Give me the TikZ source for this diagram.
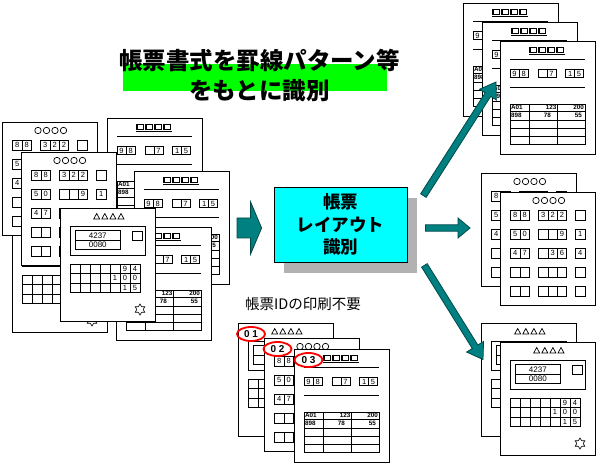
\documentclass[tikz,border=0pt]{standalone}
\usepackage{fontspec}
\usepackage{tikz}
\usetikzlibrary{positioning,calc,shapes.geometric,shadows}
\newfontfamily\jpfont{Noto Sans CJK JP}
\newfontfamily\digitfont{Liberation Sans}
\definecolor{formteal}{RGB}{0,128,128}
\definecolor{formtealdark}{RGB}{0,72,72}
\definecolor{markgreen}{RGB}{0,255,0}
\definecolor{boxcyan}{RGB}{0,255,255}
\definecolor{shadowgray}{RGB}{178,178,178}

% row of numbered cells: x, y, cell width, cell height, digits
\newcommand\cells[5]{%
  \foreach \d [count=\i from 0] in {#5} {
    \draw[cell] ({#1+#3*\i},#2) rectangle +(#3,#4);
    \node[digit] at ({#1+#3*\i+#3/2},{#2+#4/2}) {\d};
  }}

% block arrow: tail, tip, half shaft, half head, head length
\newcommand\blockarrow[5]{%
  \coordinate (hb) at ($(#2)!#5!(#1)$);
  \filldraw[flowarrow] ($(#1)!#3!90:(#2)$) -- ($(hb)!#3!90:(#2)$) -- ($(hb)!#4!90:(#2)$) -- (#2)
    -- ($(hb)!#4!-90:(#2)$) -- ($(hb)!#3!-90:(#2)$) -- ($(#1)!#3!-90:(#2)$) -- cycle;}

\tikzset{
  pics/circleform/.style={code={
    \node[sheet] (-sheet) at (47.5,56.5) {};
    \foreach \cx in {36,44.5,53,61.5} \draw[glyph] (\cx,8.5) circle (3.2);
    \cells{10.5}{18}{9.4}{10}{8,8} \cells{38.5}{18}{9.4}{10}{3,2,2} \cells{75.5}{18}{9.4}{10}{{}}
    \cells{10.5}{37}{9.4}{10}{5,0} \cells{38.5}{37}{9.4}{10}{{},{},9} \cells{75.5}{37}{9.4}{10}{1}
    \cells{10.5}{56}{9.4}{10}{4,7} \cells{38.5}{56}{9.4}{10}{{},3,6} \cells{75.5}{56}{9.4}{10}{4}
    \cells{10.5}{75}{9.4}{10}{{},{}} \cells{38.5}{75}{9.4}{10}{{},{},{}} \cells{75.5}{75}{9.4}{10}{{}}
    \cells{10.5}{94}{9.4}{10}{{},{}} \cells{38.5}{94}{9.4}{10}{{},{},{}} \cells{75.5}{94}{9.4}{10}{{}}
  }},
  pics/squareform/.style={code={
    \node[sheet] (-sheet) at (47.5,56.5) {};
    \foreach \cx in {30,39,48,57} \draw[glyph, line width=1.1pt] (\cx,6.5) rectangle +(6.5,5);
    \draw[line width=1pt] (29,13.5) -- (65,13.5);
    \draw[cell] (10,18.7) -- (85,18.7) (10,46.7) -- (85,46.7);
    \cells{10}{28.3}{9.15}{8.4}{9,8} \cells{38.3}{28.3}{8.85}{8.4}{{},7} \cells{65.7}{28.3}{8.8}{8.4}{1,5}
    \draw[cell] (10,63) rectangle (85,103) (29.3,63) -- (29.3,103) (57.7,63) -- (57.7,103);
    \foreach \ry in {70,79,87,95} \draw[cell] (10,\ry) -- (85,\ry);
    \node[tabtext, anchor=west] at (10.8,66.6) {A01};
    \node[tabtext, anchor=east] at (56.5,66.6) {123};
    \node[tabtext, anchor=east] at (84,66.6) {200};
    \node[tabtext, anchor=west] at (10.8,74.6) {898};
    \node[tabtext, anchor=east] at (51,74.2) {78};
    \node[tabtext, anchor=east] at (82,74.6) {55};
  }},
  pics/triangleform/.style={code={
    \node[sheet] (-sheet) at (47.5,56.5) {};
    \foreach \cx in {36.7,44.8,52.9,61} \draw[glyph] (\cx-3,11) -- (\cx+3,11) -- (\cx,5.5) -- cycle;
    \draw[cell] (10,18.5) rectangle (85,47);
    \draw[cell] (15,22.5) rectangle (60.5,41.5) (15,32) -- (60.5,32);
    \node[numtext] at (37.8,27.3) {4237};
    \node[numtext] at (37.8,36.9) {0080};
    \draw[cell] (72.7,23.7) rectangle (82.3,32.7);
    \draw[cell] (10,56) rectangle (80,84.5);
    \foreach \gx in {20,30,...,70} \draw[cell] (\gx,56) -- (\gx,84.5);
    \foreach \gy in {65.5,75} \draw[cell] (10,\gy) -- (80,\gy);
    \node[digit] at (65,60.8) {9}; \node[digit] at (75,60.8) {4};
    \node[digit] at (55,70.3) {1}; \node[digit] at (65,70.3) {0}; \node[digit] at (75,70.3) {0};
    \node[digit] at (65,79.8) {1}; \node[digit] at (75,79.8) {5};
    \node[draw, star, star points=6, star point ratio=1.7, minimum size=11pt, inner sep=0pt, line width=0.6pt] at (80,101.5) {};
  }}
}

\begin{document}
\begin{tikzpicture}[x=1pt, y=-1pt]

    \tikzstyle{sheet} = [rectangle, draw, fill=white, line width=0.8pt, minimum width=95pt, minimum height=113pt, inner sep=0pt, outer sep=0pt]
    \tikzstyle{cell} = [line width=0.7pt]
    \tikzstyle{glyph} = [line width=0.7pt]
    \tikzstyle{digit} = [inner sep=0pt, font=\digitfont\fontsize{7.5}{7.5}\selectfont]
    \tikzstyle{numtext} = [inner sep=0pt, font=\digitfont\fontsize{8}{8}\selectfont]
    \tikzstyle{tabtext} = [inner sep=0pt, font=\digitfont\bfseries\fontsize{6.3}{6.3}\selectfont]
    \tikzstyle{idmark} = [ellipse, draw=red, line width=1.8pt, minimum width=28pt, minimum height=14pt, inner sep=0pt, font=\digitfont\bfseries\fontsize{10}{10}\selectfont]
    \tikzstyle{flowarrow} = [fill=formteal, draw=formtealdark, line width=0.8pt]

    \useasboundingbox (0,0) rectangle (597,465);
    \fill[white] (0,0) rectangle (597,465);

    % title
    \node [fill=markgreen, minimum width=264pt, minimum height=27pt, inner sep=0pt] (mark) at (255,77.5) {};
    \node [align=center, inner sep=0pt, font=\jpfont\bfseries\fontsize{23.5}{30}\selectfont] (title) at (259.5,76) {帳票書式を罫線パターン等\\をもとに識別};

    % forms before sorting
    \pic (lTb) at (12,219) {triangleform};
    \pic (lA) at (2,122) {circleform};
    \pic (lC) at (107,118) {squareform};
    \pic (lB) at (21,152) {circleform};
    \pic (lD) at (134,171) {squareform};
    \pic (lE) at (116,227) {squareform};
    \pic (lTf) at (60,208) {triangleform};

    % sorted forms
    \pic (trA) at (463,3) {squareform};
    \pic (trB) at (482,22) {squareform};
    \pic (trC) at (500,41) {squareform};
    \pic (mrA) at (481,173) {circleform};
    \pic (mrB) at (500,192) {circleform};
    \pic (brA) at (481,323) {triangleform};
    \pic (brB) at (500,342) {triangleform};

    % forms with printed ID
    \node [inner sep=0pt, font=\jpfont\fontsize{14.5}{14.5}\selectfont] (noID) at (303,304) {帳票IDの印刷不要};
    \pic (idA) at (238,323) {triangleform};
    \node [idmark] (id1) at ($(idA-sheet.north west)+(13,11)$) {0 1};
    \pic (idB) at (264,338) {circleform};
    \node [idmark] (id2) at ($(idB-sheet.north west)+(13.5,11)$) {0 2};
    \pic (idC) at (294,349) {squareform};
    \node [idmark] (id3) at ($(idC-sheet.north west)+(14.5,11)$) {0 3};

    % layout check
    \node [draw, fill=boxcyan, line width=0.8pt, minimum width=133pt, minimum height=75pt, align=center, inner sep=0pt,
      drop shadow={shadow xshift=10pt, shadow yshift=-11pt, fill=shadowgray, opacity=1},
      font=\jpfont\bfseries\fontsize{17.5}{22.5}\selectfont] (layout) at (340.5,224.5) {帳票\\レイアウト\\識別};

    \coordinate (inT) at ($(lD-sheet.east)+(8,0.5)$);
    \coordinate (inH) at ($(layout.west)+(-12,3.5)$);
    \coordinate (upT) at ($(layout.north east)+(16,9)$);
    \coordinate (upH) at ($(trC-sheet.west)+(-4,-15.5)$);
    \coordinate (midT) at ($(layout.east)+(18,3.5)$);
    \coordinate (midH) at ($(mrA-sheet.west)+(-11,-1.5)$);
    \coordinate (dnT) at ($(layout.south east)+(17,3)$);
    \coordinate (dnH) at ($(brA-sheet.west)+(2,-20)$);

    \blockarrow{inT}{inH}{10pt}{26pt}{11pt}
    \blockarrow{upT}{upH}{3.3pt}{10pt}{15pt}
    \blockarrow{midT}{midH}{3.2pt}{10pt}{12pt}
    \blockarrow{dnT}{dnH}{3.3pt}{10pt}{15pt}

\end{tikzpicture}
\end{document}
